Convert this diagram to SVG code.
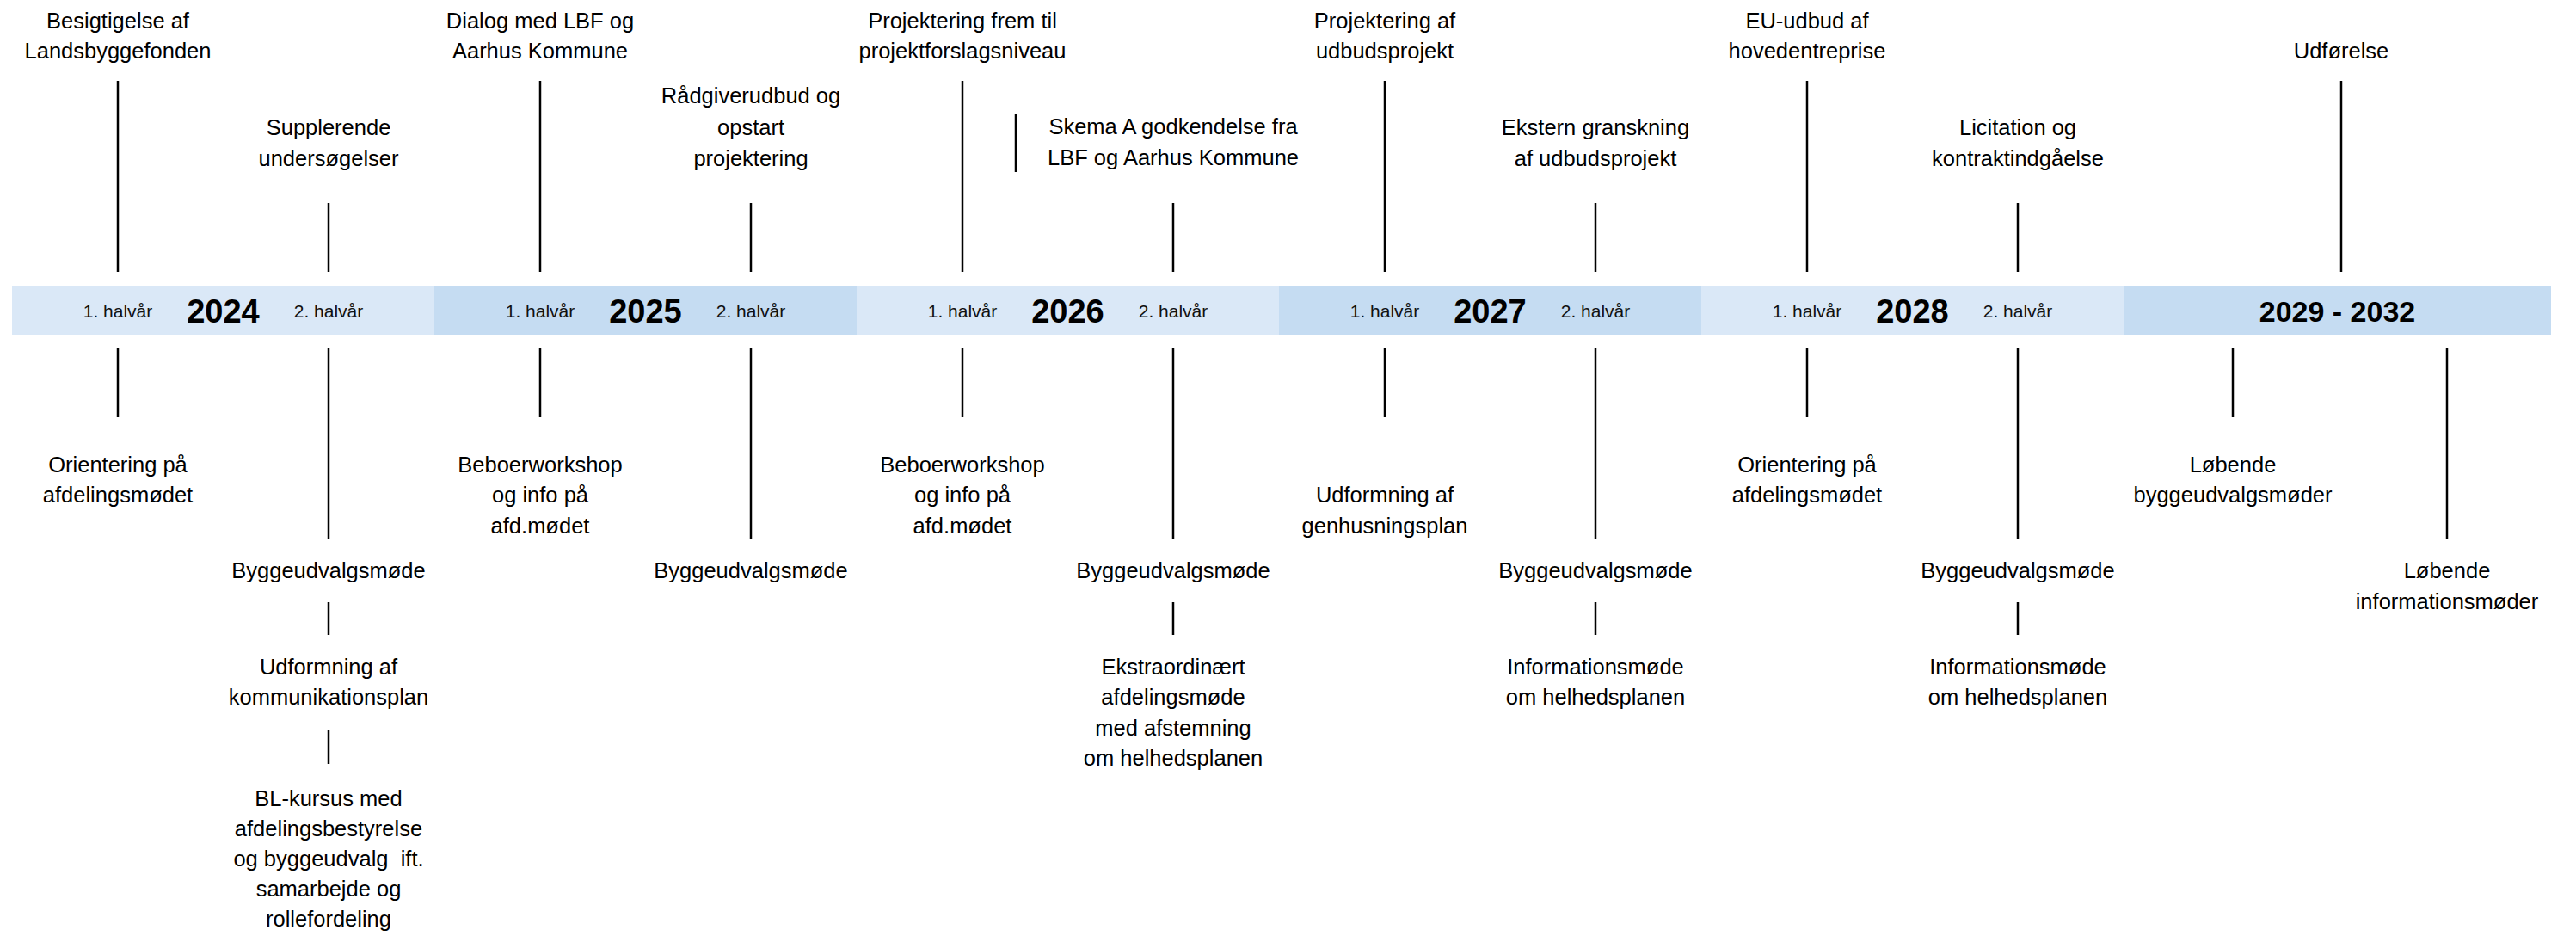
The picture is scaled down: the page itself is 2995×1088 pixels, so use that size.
<svg xmlns="http://www.w3.org/2000/svg" width="2995" height="1088" viewBox="0 0 2995 1088">
<style>
.t{font-family:"Liberation Sans",Arial,sans-serif;font-size:25.5px;fill:#000;text-anchor:middle}
.h{font-family:"Liberation Sans",Arial,sans-serif;font-size:21px;fill:#111;text-anchor:middle}
.y{font-family:"Liberation Sans",Arial,sans-serif;font-size:38px;font-weight:bold;fill:#000;text-anchor:middle}
.c{stroke:#000;stroke-width:2.5;fill:none}
.l{fill:#DAE8F7}
.d{fill:#C5DCF2}
</style>
<rect width="2995" height="1088" fill="#fff"/>
<g id="timeline">
<rect class="l" x="14" y="333" width="491" height="56"/>
<rect class="d" x="505" y="333" width="491" height="56"/>
<rect class="l" x="996" y="333" width="491" height="56"/>
<rect class="d" x="1487" y="333" width="491" height="56"/>
<rect class="l" x="1978" y="333" width="491" height="56"/>
<rect class="d" x="2469" y="333" width="497" height="56"/>
<text class="h" x="137" y="369">1. halvår</text>
<text class="y" x="259.5" y="375">2024</text>
<text class="h" x="382" y="369">2. halvår</text>
<text class="h" x="628" y="369">1. halvår</text>
<text class="y" x="750.5" y="375">2025</text>
<text class="h" x="873" y="369">2. halvår</text>
<text class="h" x="1119" y="369">1. halvår</text>
<text class="y" x="1241.5" y="375">2026</text>
<text class="h" x="1364" y="369">2. halvår</text>
<text class="h" x="1610" y="369">1. halvår</text>
<text class="y" x="1732.5" y="375">2027</text>
<text class="h" x="1855" y="369">2. halvår</text>
<text class="h" x="2101" y="369">1. halvår</text>
<text class="y" x="2223.5" y="375">2028</text>
<text class="h" x="2346" y="369">2. halvår</text>
<text class="y" x="2717.5" y="374" style="font-size:34px">2029 - 2032</text>
</g>
<g id="connectors">
<line class="c" x1="137" y1="94" x2="137" y2="316"/>
<line class="c" x1="382" y1="236" x2="382" y2="316"/>
<line class="c" x1="628" y1="94" x2="628" y2="316"/>
<line class="c" x1="873" y1="236" x2="873" y2="316"/>
<line class="c" x1="1119" y1="94" x2="1119" y2="316"/>
<line class="c" x1="1181" y1="132" x2="1181" y2="200"/>
<line class="c" x1="1364" y1="236" x2="1364" y2="316"/>
<line class="c" x1="1610" y1="94" x2="1610" y2="316"/>
<line class="c" x1="1855" y1="236" x2="1855" y2="316"/>
<line class="c" x1="2101" y1="94" x2="2101" y2="316"/>
<line class="c" x1="2346" y1="236" x2="2346" y2="316"/>
<line class="c" x1="2722" y1="94" x2="2722" y2="316"/>
<line class="c" x1="137" y1="405" x2="137" y2="485"/>
<line class="c" x1="382" y1="405" x2="382" y2="627"/>
<line class="c" x1="382" y1="700" x2="382" y2="738"/>
<line class="c" x1="382" y1="849" x2="382" y2="888"/>
<line class="c" x1="628" y1="405" x2="628" y2="485"/>
<line class="c" x1="873" y1="405" x2="873" y2="627"/>
<line class="c" x1="1119" y1="405" x2="1119" y2="485"/>
<line class="c" x1="1364" y1="405" x2="1364" y2="627"/>
<line class="c" x1="1364" y1="700" x2="1364" y2="738"/>
<line class="c" x1="1610" y1="405" x2="1610" y2="485"/>
<line class="c" x1="1855" y1="405" x2="1855" y2="627"/>
<line class="c" x1="1855" y1="700" x2="1855" y2="738"/>
<line class="c" x1="2101" y1="405" x2="2101" y2="485"/>
<line class="c" x1="2346" y1="405" x2="2346" y2="627"/>
<line class="c" x1="2346" y1="700" x2="2346" y2="738"/>
<line class="c" x1="2596" y1="405" x2="2596" y2="485"/>
<line class="c" x1="2845" y1="405" x2="2845" y2="627"/>
</g>
<g id="top-besigtigelse"><text class="t"><tspan x="137" y="33">Besigtigelse af</tspan><tspan x="137" y="68">Landsbyggefonden</tspan></text></g>
<g id="top-supplerende"><text class="t"><tspan x="382" y="157">Supplerende</tspan><tspan x="382" y="193">undersøgelser</tspan></text></g>
<g id="top-dialog"><text class="t"><tspan x="628" y="33">Dialog med LBF og</tspan><tspan x="628" y="68">Aarhus Kommune</tspan></text></g>
<g id="top-raadgiver"><text class="t"><tspan x="873" y="120">Rådgiverudbud og</tspan><tspan x="873" y="157">opstart</tspan><tspan x="873" y="193">projektering</tspan></text></g>
<g id="top-projektering-frem"><text class="t"><tspan x="1119" y="33">Projektering frem til</tspan><tspan x="1119" y="68">projektforslagsniveau</tspan></text></g>
<g id="top-skema-a"><text class="t"><tspan x="1364" y="156">Skema A godkendelse fra</tspan><tspan x="1364" y="192">LBF og Aarhus Kommune</tspan></text></g>
<g id="top-projektering-udbud"><text class="t"><tspan x="1610" y="33">Projektering af</tspan><tspan x="1610" y="68">udbudsprojekt</tspan></text></g>
<g id="top-ekstern"><text class="t"><tspan x="1855" y="157">Ekstern granskning</tspan><tspan x="1855" y="193">af udbudsprojekt</tspan></text></g>
<g id="top-eu-udbud"><text class="t"><tspan x="2101" y="33">EU-udbud af</tspan><tspan x="2101" y="68">hovedentreprise</tspan></text></g>
<g id="top-licitation"><text class="t"><tspan x="2346" y="157">Licitation og</tspan><tspan x="2346" y="193">kontraktindgåelse</tspan></text></g>
<g id="top-udfoerelse"><text class="t" x="2722" y="68">Udførelse</text></g>
<g id="bot-orientering-2024"><text class="t"><tspan x="137" y="549">Orientering på</tspan><tspan x="137" y="584">afdelingsmødet</tspan></text></g>
<g id="bot-byggeudvalg-2024"><text class="t" x="382" y="672">Byggeudvalgsmøde</text></g>
<g id="bot-kommunikationsplan"><text class="t"><tspan x="382" y="784">Udformning af</tspan><tspan x="382" y="819">kommunikationsplan</tspan></text></g>
<g id="bot-bl-kursus"><text class="t" xml:space="preserve"><tspan x="382" y="937">BL-kursus med</tspan><tspan x="382" y="972">afdelingsbestyrelse</tspan><tspan x="382" y="1007">og byggeudvalg  ift.</tspan><tspan x="382" y="1042">samarbejde og</tspan><tspan x="382" y="1077">rollefordeling</tspan></text></g>
<g id="bot-beboerworkshop-2025"><text class="t"><tspan x="628" y="549">Beboerworkshop</tspan><tspan x="628" y="584">og info på</tspan><tspan x="628" y="620">afd.mødet</tspan></text></g>
<g id="bot-byggeudvalg-2025"><text class="t" x="873" y="672">Byggeudvalgsmøde</text></g>
<g id="bot-beboerworkshop-2026"><text class="t"><tspan x="1119" y="549">Beboerworkshop</tspan><tspan x="1119" y="584">og info på</tspan><tspan x="1119" y="620">afd.mødet</tspan></text></g>
<g id="bot-byggeudvalg-2026"><text class="t" x="1364" y="672">Byggeudvalgsmøde</text></g>
<g id="bot-ekstraordinaert"><text class="t"><tspan x="1364" y="784">Ekstraordinært</tspan><tspan x="1364" y="819">afdelingsmøde</tspan><tspan x="1364" y="855">med afstemning</tspan><tspan x="1364" y="890">om helhedsplanen</tspan></text></g>
<g id="bot-genhusningsplan"><text class="t"><tspan x="1610" y="584">Udformning af</tspan><tspan x="1610" y="620">genhusningsplan</tspan></text></g>
<g id="bot-byggeudvalg-2027"><text class="t" x="1855" y="672">Byggeudvalgsmøde</text></g>
<g id="bot-information-2027"><text class="t"><tspan x="1855" y="784">Informationsmøde</tspan><tspan x="1855" y="819">om helhedsplanen</tspan></text></g>
<g id="bot-orientering-2028"><text class="t"><tspan x="2101" y="549">Orientering på</tspan><tspan x="2101" y="584">afdelingsmødet</tspan></text></g>
<g id="bot-byggeudvalg-2028"><text class="t" x="2346" y="672">Byggeudvalgsmøde</text></g>
<g id="bot-information-2028"><text class="t"><tspan x="2346" y="784">Informationsmøde</tspan><tspan x="2346" y="819">om helhedsplanen</tspan></text></g>
<g id="bot-loebende-byggeudvalg"><text class="t"><tspan x="2596" y="549">Løbende</tspan><tspan x="2596" y="584">byggeudvalgsmøder</tspan></text></g>
<g id="bot-loebende-information"><text class="t"><tspan x="2845" y="672">Løbende</tspan><tspan x="2845" y="708">informationsmøder</tspan></text></g>
</svg>
